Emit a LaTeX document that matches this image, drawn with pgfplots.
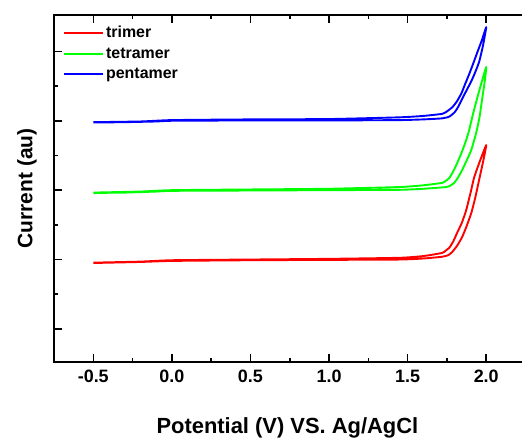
\documentclass[border=0pt]{standalone}
\usepackage{pgfplots}
\pgfplotsset{compat=1.18}
\usepackage{fontspec}
\setmainfont{Liberation Sans}
\usetikzlibrary{calc}
\begin{document}
\begin{tikzpicture}
\begin{axis}[
  name=ax,
  scale only axis,
  width=467bp, height=347bp,
  xmin=-0.75, xmax=2.22,
  ymin=0.05, ymax=10.05,
  axis line style={draw=none},
  xtick={-0.5,0,0.5,1,1.5,2},
  xticklabels={-0.5,0.0,0.5,1.0,1.5,2.0},
  minor xtick={-0.25,0.25,0.75,1.25,1.75},
  xtick pos=both,
  ytick={1,3,5,7,9},
  minor ytick={2,4,6,8},
  ytick pos=left,
  yticklabels={},
  tick align=inside,
  major tick length=8bp,
  minor tick length=4bp,
  every tick/.style={black, line width=1.5bp},
  /pgf/number format/assume math mode=true,
  ticklabel style={font=\fontsize{18}{20}\selectfont\bfseries},
  xticklabel style={yshift=-5bp},
  xlabel={Potential (V) VS. Ag/AgCl},
  ylabel={Current (au)},
  xlabel style={font=\fontsize{22}{24}\selectfont\bfseries, yshift=-28bp},
  ylabel style={font=\fontsize{21}{23}\selectfont\bfseries, yshift=7bp},
  legend cell align=left,
  legend style={draw=none, fill=none, at={(rel axis cs:0,1)}, anchor=north west,
    xshift=6bp, yshift=-7bp,
    font=\fontsize{16}{18}\selectfont\bfseries,
    row sep=4.5bp},
  legend image code/.code={\draw[#1, line width=2bp] (0bp,0bp) -- (39bp,0bp);},
  every axis plot/.append style={line width=1.9bp, line join=round, smooth, tension=0.3},
  clip=false,
]
\addplot[color={rgb,255:red,255;green,0;blue,0}] coordinates {
(-0.5,2.90) (-0.2,2.93) (0,2.96) (0.5,2.98) (1.0,2.99) (1.45,3.0) (1.6,3.03) (1.72,3.08) (1.76,3.13) (1.784,3.22) (1.815,3.40) (1.847,3.65) (1.875,3.96) (1.905,4.34) (1.93,4.78) (1.955,5.30) (1.98,5.82) (2.0,6.30)
(1.96,5.84) (1.924,5.38) (1.90,4.92) (1.873,4.43) (1.845,4.06) (1.815,3.77) (1.79,3.52) (1.765,3.34) (1.74,3.25) (1.72,3.19) (1.6,3.10) (1.45,3.05) (1.0,3.02) (0.5,3.0) (0,2.98) (-0.2,2.94) (-0.5,2.91)
};
\addlegendentry{trimer}
\addplot[color={rgb,255:red,0;green,255;blue,0}] coordinates {
(-0.5,4.92) (-0.3,4.93) (-0.1,4.96) (0,4.98) (0.5,4.99) (1.0,5.0) (1.45,5.01) (1.6,5.04) (1.746,5.09) (1.775,5.14) (1.796,5.21) (1.82,5.36) (1.847,5.58) (1.875,5.85) (1.905,6.16) (1.936,6.65) (1.958,7.12) (1.975,7.66) (1.99,8.12) (2.0,8.55)
(1.97,8.10) (1.943,7.66) (1.915,7.18) (1.892,6.74) (1.873,6.45) (1.845,6.10) (1.815,5.78) (1.79,5.54) (1.765,5.35) (1.74,5.26) (1.72,5.21) (1.6,5.14) (1.45,5.09) (1.0,5.04) (0.5,5.02) (0,5.0) (-0.2,4.96) (-0.5,4.93)
};
\addlegendentry{tetramer}
\addplot[color={rgb,255:red,0;green,0;blue,255}] coordinates {
(-0.5,6.95) (-0.3,6.96) (-0.1,6.98) (0.0,7.0) (0.5,7.01) (1.0,7.01) (1.45,7.02) (1.6,7.04) (1.72,7.07) (1.765,7.12) (1.80,7.25) (1.825,7.43) (1.847,7.63) (1.875,7.88) (1.905,8.14) (1.93,8.40) (1.955,8.70) (1.98,9.18) (2.0,9.70)
(1.972,9.32) (1.943,8.97) (1.918,8.66) (1.892,8.35) (1.865,8.05) (1.841,7.78) (1.812,7.55) (1.784,7.39) (1.75,7.27) (1.72,7.2) (1.6,7.14) (1.45,7.1) (1.0,7.05) (0.5,7.04) (0.0,7.02) (-0.2,6.98) (-0.5,6.96)
};
\addlegendentry{pentamer}
\draw[line width=2.4bp, line cap=rect] (rel axis cs:1,1) -- (rel axis cs:0,1) -- (rel axis cs:0,0) -- (rel axis cs:1,0);
\end{axis}
\path[use as bounding box] ($(ax.south west)+(-54bp,-79bp)$) rectangle ($(ax.north east)+(1bp,15bp)$);
\end{tikzpicture}
\end{document}
